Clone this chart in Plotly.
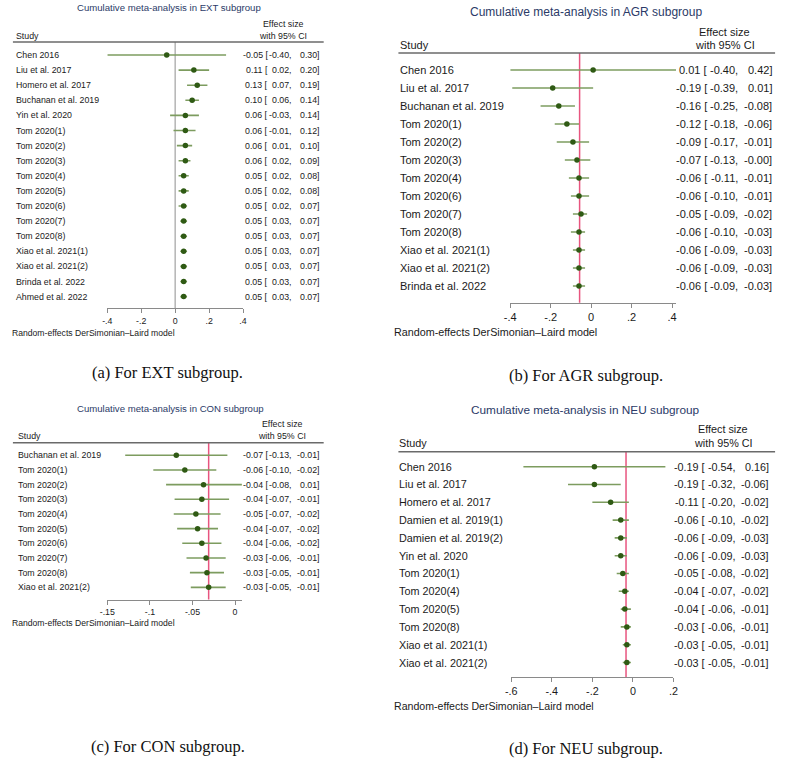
import plotly.graph_objects as go

W, H = 785, 759

# ------------------------- data -------------------------
ext_studies = ["Chen 2016", "Liu et al. 2017", "Homero et al. 2017", "Buchanan et al. 2019",
               "Yin et al. 2020", "Tom 2020(1)", "Tom 2020(2)", "Tom 2020(3)", "Tom 2020(4)",
               "Tom 2020(5)", "Tom 2020(6)", "Tom 2020(7)", "Tom 2020(8)", "Xiao et al. 2021(1)",
               "Xiao et al. 2021(2)", "Brinda et al. 2022", "Ahmed et al. 2022"]
ext_es = [-0.05, 0.11, 0.13, 0.10, 0.06, 0.06, 0.06, 0.06, 0.05, 0.05, 0.05, 0.05, 0.05, 0.05, 0.05, 0.05, 0.05]
ext_lo = [-0.40, 0.02, 0.07, 0.06, -0.03, -0.01, 0.01, 0.02, 0.02, 0.02, 0.02, 0.03, 0.03, 0.03, 0.03, 0.03, 0.03]
ext_hi = [0.30, 0.20, 0.19, 0.14, 0.14, 0.12, 0.10, 0.09, 0.08, 0.08, 0.07, 0.07, 0.07, 0.07, 0.07, 0.07, 0.07]
ext_ref = 0.0

agr_studies = ["Chen 2016", "Liu et al. 2017", "Buchanan et al. 2019", "Tom 2020(1)", "Tom 2020(2)",
               "Tom 2020(3)", "Tom 2020(4)", "Tom 2020(6)", "Tom 2020(7)", "Tom 2020(8)",
               "Xiao et al. 2021(1)", "Xiao et al. 2021(2)", "Brinda et al. 2022"]
agr_es = [0.01, -0.19, -0.16, -0.12, -0.09, -0.07, -0.06, -0.06, -0.05, -0.06, -0.06, -0.06, -0.06]
agr_lo = [-0.40, -0.39, -0.25, -0.18, -0.17, -0.13, -0.11, -0.10, -0.09, -0.10, -0.09, -0.09, -0.09]
agr_hi = [0.42, 0.01, -0.08, -0.06, -0.01, -0.004, -0.01, -0.01, -0.02, -0.03, -0.03, -0.03, -0.03]
agr_ref = -0.057

con_studies = ["Buchanan et al. 2019", "Tom 2020(1)", "Tom 2020(2)", "Tom 2020(3)", "Tom 2020(4)",
               "Tom 2020(5)", "Tom 2020(6)", "Tom 2020(7)", "Tom 2020(8)", "Xiao et al. 2021(2)"]
con_es = [-0.069, -0.059, -0.037, -0.039, -0.046, -0.044, -0.039, -0.034, -0.033, -0.031]
con_lo = [-0.129, -0.096, -0.081, -0.071, -0.072, -0.068, -0.062, -0.057, -0.053, -0.052]
con_hi = [-0.009, -0.022, 0.01, -0.007, -0.017, -0.020, -0.016, -0.011, -0.013, -0.011]
con_ref = -0.031

neu_studies = ["Chen 2016", "Liu et al. 2017", "Homero et al. 2017", "Damien et al. 2019(1)",
               "Damien et al. 2019(2)", "Yin et al. 2020", "Tom 2020(1)", "Tom 2020(4)",
               "Tom 2020(5)", "Tom 2020(8)", "Xiao et al. 2021(1)", "Xiao et al. 2021(2)"]
neu_es = [-0.19, -0.19, -0.11, -0.06, -0.06, -0.06, -0.05, -0.04, -0.04, -0.03, -0.03, -0.03]
neu_lo = [-0.54, -0.32, -0.20, -0.10, -0.09, -0.09, -0.08, -0.07, -0.06, -0.06, -0.05, -0.05]
neu_hi = [0.16, -0.06, -0.02, -0.02, -0.03, -0.03, -0.02, -0.02, -0.01, -0.01, -0.01, -0.01]
neu_ref = -0.034

ext_ticks = [-0.4, -0.2, 0, 0.2, 0.4]
ext_ticktext = ["-.4", "-.2", "0", ".2", ".4"]
agr_ticks = [-0.4, -0.2, 0, 0.2, 0.4]
agr_ticktext = ["-.4", "-.2", "0", ".2", ".4"]
con_ticks = [-0.15, -0.1, -0.05, 0]
con_ticktext = ["-.15", "-.1", "-.05", "0"]
neu_ticks = [-0.6, -0.4, -0.2, 0, 0.2]
neu_ticktext = ["-.6", "-.4", "-.2", "0", ".2"]

titles = ["Cumulative meta-analysis in EXT subgroup", "Cumulative meta-analysis in AGR subgroup",
          "Cumulative meta-analysis in CON subgroup", "Cumulative meta-analysis in NEU subgroup"]
captions = ["(a) For EXT subgroup.", "(b) For AGR subgroup.",
            "(c) For CON subgroup.", "(d) For NEU subgroup."]
model_note = "Random-effects DerSimonian\u2013Laird model"

# ------------------------- geometry / style -------------------------
panels = [
    dict(studies=ext_studies, es=ext_es, lo=ext_lo, hi=ext_hi, ref=ext_ref, refcolor="#b4b4b4",
         ticks=ext_ticks, ticktext=ext_ticktext, xrange=[-0.4, 0.4], xpx=[101, 239],
         row0=55, sp=15.1, head=42, axis=308, fs=8.8, tfs=9.6,
         title_xy=(164, 8), study_xy=(8, 36), es_hdr=(280, 24, 36), name_x=8,
         colC=317, note_xy=(4, 333), cap_xy=(162, 372), left=5, right=321),
    dict(studies=agr_studies, es=agr_es, lo=agr_lo, hi=agr_hi, ref=agr_ref, refcolor="#e8557f",
         ticks=agr_ticks, ticktext=agr_ticktext, xrange=[-0.4, 0.42], xpx=[510.7, 679.3],
         row0=70, sp=18, head=53, axis=302.7, fs=11, tfs=12,
         title_xy=(588, 12), study_xy=(399, 45), es_hdr=(729, 32, 45), name_x=399,
         colC=777, note_xy=(393, 332), cap_xy=(588, 375), left=397, right=780),
    dict(studies=con_studies, es=con_es, lo=con_lo, hi=con_hi, ref=con_ref, refcolor="#e8557f",
         ticks=con_ticks, ticktext=con_ticktext, xrange=[-0.15, 0.008], xpx=[101, 237.8],
         row0=455.3, sp=14.67, head=442.7, axis=599.5, fs=8.8, tfs=9.6,
         title_xy=(165, 408), study_xy=(10, 436), es_hdr=(279, 424, 436), name_x=10,
         colC=317, note_xy=(4, 623), cap_xy=(162.5, 746), left=5, right=321),
    dict(studies=neu_studies, es=neu_es, lo=neu_lo, hi=neu_hi, ref=neu_ref, refcolor="#e8557f",
         ticks=neu_ticks, ticktext=neu_ticktext, xrange=[-0.6, 0.2], xpx=[511.7, 676.7],
         row0=466.7, sp=17.8, head=451.7, axis=677.3, fs=10.8, tfs=11.8,
         title_xy=(587.5, 410), study_xy=(398, 443), es_hdr=(727.5, 429, 443), name_x=398,
         colC=774, note_xy=(393, 706), cap_xy=(587.5, 748), left=397, right=780),
]

FONT = "Liberation Sans, Arial, sans-serif"
SERIF = "Liberation Serif, Times New Roman, serif"
CI_COLOR = "#7d9c5f"
DOT_COLOR = "#2f5a14"
TITLE_COLOR = "#2b3a67"
TEXT_COLOR = "#1a1a1a"


def xp(px):
    return px / W


def yp(py):
    return 1 - py / H


fig = go.Figure()
annotations = []
shapes = []
layout_axes = {}

for k, p in enumerate(panels, start=1):
    xa = "x" if k == 1 else f"x{k}"
    ya = "y" if k == 1 else f"y{k}"
    xkey = "xaxis" if k == 1 else f"xaxis{k}"
    ykey = "yaxis" if k == 1 else f"yaxis{k}"
    n = len(p["studies"])
    rows = list(range(n))
    fs = p["fs"]
    colC = p["colC"]
    colB = colC - 3.15 * fs
    colA = colB - 2.85 * fs

    # CI lines
    xs, ys = [], []
    for i in rows:
        xs += [p["lo"][i], p["hi"][i], None]
        ys += [i, i, None]
    fig.add_trace(go.Scatter(x=xs, y=ys, mode="lines", xaxis=xa, yaxis=ya,
                             line=dict(color=CI_COLOR, width=1.6), hoverinfo="skip"))
    # point estimates
    fig.add_trace(go.Scatter(x=p["es"], y=rows, mode="markers", xaxis=xa, yaxis=ya,
                             marker=dict(color=DOT_COLOR, size=5.5, line=dict(width=0))))

    ytop = (p["head"] - p["row0"]) / p["sp"]
    ybot = (p["axis"] - p["row0"]) / p["sp"]
    layout_axes[xkey] = dict(domain=[xp(p["xpx"][0]), xp(p["xpx"][1])], range=p["xrange"],
                             anchor=ya, showline=True, linecolor="#8a8a8a", linewidth=1,
                             ticks="outside", ticklen=4, tickcolor="#8a8a8a", tickwidth=1,
                             tickvals=p["ticks"], ticktext=p["ticktext"], showgrid=False,
                             zeroline=False, tickfont=dict(family=FONT, size=fs, color=TEXT_COLOR),
                             fixedrange=True)
    layout_axes[ykey] = dict(domain=[yp(p["axis"]), yp(p["head"])], range=[ybot, ytop],
                             anchor=xa, visible=False, showgrid=False, zeroline=False, fixedrange=True)

    # reference line
    shapes.append(dict(type="line", xref=xa, yref="paper", x0=p["ref"], x1=p["ref"],
                       y0=yp(p["axis"]), y1=yp(p["head"]),
                       line=dict(color=p["refcolor"], width=1.5), layer="below"))
    # header rule
    shapes.append(dict(type="line", xref="paper", yref="paper", x0=xp(p["left"]), x1=xp(p["right"]),
                       y0=yp(p["head"]), y1=yp(p["head"]), line=dict(color="#6a6a6a", width=1.6)))

    def ann(text, x, y, xanchor="left", size=None, color=TEXT_COLOR, family=FONT, yref="paper", yval=None):
        annotations.append(dict(text=text, x=x, y=(yval if yval is not None else y), xref="paper",
                                yref=yref, xanchor=xanchor, yanchor="middle", showarrow=False,
                                borderpad=0, borderwidth=0,
                                font=dict(family=family, size=size or fs, color=color)))

    ann(titles[k - 1], xp(p["title_xy"][0]), yp(p["title_xy"][1]), "center", p["tfs"], TITLE_COLOR)
    ann("Study", xp(p["study_xy"][0]), yp(p["study_xy"][1]))
    ann("Effect size", xp(p["es_hdr"][0]), yp(p["es_hdr"][1]), "center")
    ann("with 95% CI", xp(p["es_hdr"][0]), yp(p["es_hdr"][2]), "center")
    ann(model_note, xp(p["note_xy"][0]), yp(p["note_xy"][1]), "left", fs * 0.98)
    ann(captions[k - 1], xp(p["cap_xy"][0]), yp(p["cap_xy"][1]), "center", 16.5, "#111111", SERIF)

    for i in rows:
        ann(p["studies"][i], xp(p["name_x"]), None, "left", yref=ya, yval=i)
        ann(f"{p['es'][i]:.2f} [", xp(colA), None, "right", yref=ya, yval=i)
        ann(f"{p['lo'][i]:.2f},", xp(colB), None, "right", yref=ya, yval=i)
        ann(f"{p['hi'][i]:.2f}]", xp(colC), None, "right", yref=ya, yval=i)

fig.update_layout(width=W, height=H, margin=dict(l=0, r=0, t=0, b=0),
                  paper_bgcolor="white", plot_bgcolor="white", showlegend=False,
                  annotations=annotations, shapes=shapes, **layout_axes)

fig.write_html("out.html", config={"displayModeBar": False},
               post_script="document.body.style.margin='0px';")
